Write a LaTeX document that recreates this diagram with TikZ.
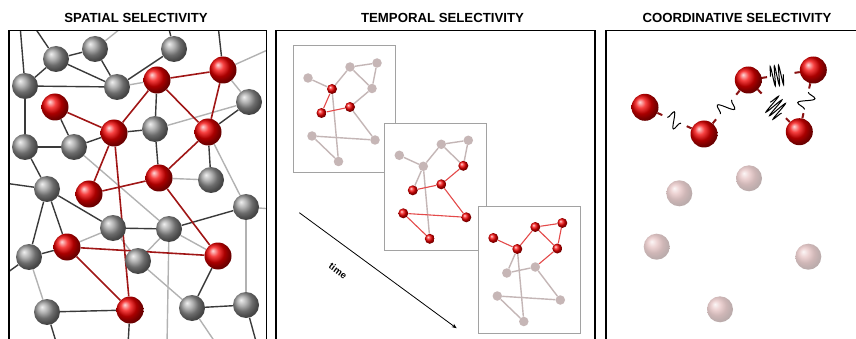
\documentclass[tikz,border=0pt]{standalone}
\usepackage{fontspec}
\setmainfont{Liberation Sans}
\usetikzlibrary{calc,backgrounds,arrows.meta,decorations.pathmorphing}

\definecolor{bondDark}{HTML}{3A3A3A}
\definecolor{bondLight}{HTML}{B2B2B2}
\definecolor{bondRed}{HTML}{A01616}
\definecolor{frameGray}{HTML}{A2A2A2}
\definecolor{dotGray}{HTML}{C6B6B6}
\definecolor{linkGray}{HTML}{C4B6B6}
\definecolor{linkRed}{HTML}{E44A4A}
\definecolor{stubRed}{HTML}{8A1212}
\definecolor{ghostTone}{HTML}{C26A6A}
\definecolor{sphereGray}{HTML}{9A9A9A}

\tikzset{
  panel/.style={draw=black, line width=1.3pt},
  title/.style={font=\fontsize{13.2}{15}\selectfont\bfseries, inner sep=0pt},
  gball/.style={circle, inner sep=0pt, minimum size=26pt, shading=ball, ball color=sphereGray},
  rball/.style={circle, inner sep=0pt, minimum size=27pt, shading=ball, ball color=red!95!black},
  ghostball/.style={circle, inner sep=0pt, minimum size=26pt, shading=ball, ball color=ghostTone, opacity=0.4},
  dk/.style={draw=bondDark, line width=1.4pt},
  lt/.style={draw=bondLight, line width=1.4pt},
  rd/.style={draw=bondRed, line width=1.6pt},
  subframe/.style={draw=frameGray, fill=white, line width=1pt},
  dot/.style={circle, inner sep=0pt, minimum size=9.5pt, fill=dotGray},
  rdot/.style={circle, inner sep=0pt, minimum size=10pt, shading=ball, ball color=red!95!black},
  link/.style={draw=linkGray, line width=1.4pt},
  rlink/.style={draw=linkRed, line width=1.1pt},
  stub/.style={draw=stubRed, line width=2pt},
  softspring/.style={draw=black, line width=1pt, decorate,
    decoration={snake, segment length=#1, amplitude=8pt}},
  tightspring/.style={draw=black, line width=1pt, decorate,
    decoration={snake, segment length=#1, amplitude=10pt}},
}

\begin{document}
\begin{tikzpicture}[x=1pt, y=-1pt]
\useasboundingbox (0,0) rectangle (856,339);

% ---------- titles ----------
\node[title] (t-spatial)  at (136,17.7)   {SPATIAL SELECTIVITY};
\node[title] (t-temporal) at (442.5,17.7) {TEMPORAL SELECTIVITY};
\node[title] (t-coord)    at (737,17.7)   {COORDINATIVE SELECTIVITY};

% ---------- spatial: network of spheres ----------
\node[gball] (g1)  at (56,59)   {};
\node[gball] (g2)  at (95,49)   {};
\node[gball] (g3)  at (174,49)  {};
\node[gball] (g4)  at (25,86)   {};
\node[gball] (g5)  at (117,87)  {};
\node[gball] (g6)  at (249,102) {};
\node[gball] (g7)  at (155,129) {};
\node[gball] (g8)  at (25,147)  {};
\node[gball] (g9)  at (74,147)  {};
\node[gball] (g10) at (211,180) {};
\node[gball] (g11) at (47,189)  {};
\node[gball] (g12) at (246,207) {};
\node[gball] (g13) at (113,228) {};
\node[gball] (g14) at (169,229) {};
\node[gball] (g15) at (29,257)  {};
\node[gball] (g16) at (138,261) {};
\node[gball] (g17) at (47,312)  {};
\node[gball] (g18) at (192,308) {};
\node[gball] (g19) at (246,305) {};

\node[rball] (r1)  at (157,80)  {};
\node[rball] (r2)  at (223,70)  {};
\node[rball] (r3)  at (55,107)  {};
\node[rball] (r4)  at (114,133) {};
\node[rball] (r5)  at (208,132) {};
\node[rball] (r6)  at (159,178) {};
\node[rball] (r7)  at (89,194)  {};
\node[rball] (r8)  at (67,247)  {};
\node[rball] (r9)  at (218,256) {};
\node[rball] (r10) at (130,310) {};

\begin{scope}[on background layer]
  \clip (9,30.7) rectangle (266.7,345);
  % loose ends leaving the frame
  \coordinate (eT1) at (33,25);
  \coordinate (eT2) at (20,25);
  \coordinate (eT3) at (125,25);
  \coordinate (eT4) at (168,25);
  \coordinate (eT5) at (218,25);
  \coordinate (eR1) at (272,48);
  \coordinate (eR2) at (272,209);
  \coordinate (eL1) at (4,183);
  \coordinate (eL2) at (4,275);
  \coordinate (eB1) at (57,345);
  \coordinate (eB2) at (128,345);
  \coordinate (eB3) at (167,345);
  \coordinate (eB4) at (217,345);
  \coordinate (eB5) at (257,345);
  % grey bonds
  \foreach \a/\b in {g1/g2, g1/g4, g1/g5, g2/g5, g4/g5, g3/g5, g1/eT1, g4/eT2,
      g3/eT4, r2/eT5, g4/g8, g8/g9, g9/r3, r4/g7, g7/r1, g7/r6, g6/r5, r5/g10,
      g11/g8, g11/eL1, g11/g13, g11/r8, g11/g15, g13/g14, g12/g14, g15/r8,
      g15/eL2, g17/r10, g17/eB1, g18/g19, g18/r9, g19/eB5, r10/eB2, g9/r4}
    \draw[dk] (\a) -- (\b);
  \foreach \a/\b in {g2/eT3, r2/eR1, g7/g6, r2/g6, r5/g12, g10/r6, g12/eR2,
      g12/g19, g9/g14, g13/g16, g14/g16, g14/eB3, g14/r9, g15/g17, g16/g18,
      g18/eB4, g5/r1, r8/g13}
    \draw[lt] (\a) -- (\b);
  % red bonds
  \foreach \a/\b in {r1/r2, r1/r4, r1/r5, r2/r5, r3/r4, r4/r7, r4/r10,
      r5/r6, r6/r7, r6/r9, r8/r9, r8/r10}
    \draw[rd] (\a) -- (\b);
\end{scope}

% ---------- temporal: three snapshots ----------
\begin{scope}[shift={(293,46)}, name prefix=fa-]
  \filldraw[subframe] (0,0) rectangle (102.5,127);
  \node[dot]  (A) at (15,32)   {};
  \node[dot]  (B) at (57,21)   {};
  \node[dot]  (C) at (84,17)   {};
  \node[dot]  (D) at (79,42.5) {};
  \node[rdot] (E) at (39,43)   {};
  \node[rdot] (F) at (28.5,67) {};
  \node[rdot] (G) at (57,61)   {};
  \node[dot]  (H) at (19,90)   {};
  \node[dot]  (I) at (82,94)   {};
  \node[dot]  (J) at (45.5,115.5) {};
  \foreach \a/\b in {A/E, E/B, B/C, B/D, C/D, D/G, E/J, G/I, H/I, H/J}
    \draw[link] (\a) -- (\b);
  \foreach \a/\b in {E/F, F/G}
    \draw[rlink] (\a) -- (\b);
\end{scope}

\begin{scope}[shift={(384.3,123.3)}, name prefix=fb-]
  \filldraw[subframe] (0,0) rectangle (102.5,127);
  \node[dot]  (A) at (15,32)   {};
  \node[dot]  (B) at (57,21)   {};
  \node[dot]  (C) at (84,17)   {};
  \node[rdot] (D) at (79,42.5) {};
  \node[dot]  (E) at (39,43)   {};
  \node[rdot] (F) at (28.5,67) {};
  \node[rdot] (G) at (57,61)   {};
  \node[rdot] (H) at (19,90)   {};
  \node[rdot] (I) at (82,94)   {};
  \node[rdot] (J) at (45.5,115.5) {};
  \foreach \a/\b in {A/E, E/B, B/C, B/D, C/D, E/F, E/J}
    \draw[link] (\a) -- (\b);
  \foreach \a/\b in {D/G, F/G, G/I, H/I, H/J}
    \draw[rlink] (\a) -- (\b);
\end{scope}

\begin{scope}[shift={(478.3,206)}, name prefix=fc-]
  \filldraw[subframe] (0,0) rectangle (102.5,127);
  \node[rdot] (A) at (15,32)   {};
  \node[rdot] (B) at (57,21)   {};
  \node[rdot] (C) at (84,17)   {};
  \node[rdot] (D) at (79,42.5) {};
  \node[rdot] (E) at (39,43)   {};
  \node[dot]  (F) at (28.5,67) {};
  \node[dot]  (G) at (57,61)   {};
  \node[dot]  (H) at (19,90)   {};
  \node[dot]  (I) at (82,94)   {};
  \node[dot]  (J) at (45.5,115.5) {};
  \foreach \a/\b in {E/F, F/G, E/J, G/I, H/I, H/J}
    \draw[link] (\a) -- (\b);
  \foreach \a/\b in {A/E, E/B, B/C, B/D, C/D, D/G}
    \draw[rlink] (\a) -- (\b);
\end{scope}

% time axis
\coordinate (time-start) at (299.3,212.7);
\coordinate (time-end)   at (456.7,328.3);
\draw[line width=0.8pt, -{Stealth[length=5pt, width=4pt]}] (time-start) -- (time-end);
\node[font=\fontsize{9.5}{11}\selectfont\bfseries, rotate=-36.3, inner sep=1pt] (time-label) at (338,271) {time};

% ---------- coordinative: linked spheres ----------
\node[ghostball] (Q1) at (679.3,193.3) {};
\node[ghostball] (Q2) at (749,178.3)   {};
\node[ghostball] (Q3) at (656.7,246.7) {};
\node[ghostball] (Q4) at (808.3,256.7) {};
\node[ghostball] (Q5) at (720,309.3)   {};

\node[rball] (P1) at (645,107.3)  {};
\node[rball] (P2) at (704,134)    {};
\node[rball] (P3) at (748.3,80)   {};
\node[rball] (P4) at (813.3,70)   {};
\node[rball] (P5) at (799.3,131.7) {};

\foreach \a/\b in {P1/P2, P2/P3, P3/P4, P3/P5, P4/P5} {
  \draw[stub] (\a) -- ($(\a)!19pt!(\b)$);
  \draw[stub] (\b) -- ($(\b)!19pt!(\a)$);
}
\draw[softspring=12.5] ($(P1)!0.38!(P2)$) -- ($(P1)!0.61!(P2)$);
\draw[softspring=15.8] ($(P2)!0.37!(P3)$) -- ($(P2)!0.63!(P3)$);
\draw[softspring=15.4] ($(P4)!0.36!(P5)$) -- ($(P4)!0.64!(P5)$);
\draw[tightspring=4.2] ($(P3)!0.34!(P4)$) -- ($(P3)!0.54!(P4)$);
\draw[tightspring=5.0] ($(P3)!0.43!(P5)$) -- ($(P3)!0.65!(P5)$);

% ---------- panel frames ----------
\draw[panel] (9,345) -- (9,30.7) -- (266.7,30.7) -- (266.7,345);
\draw[panel] (276,345) -- (276,30.7) -- (595,30.7) -- (595,345);
\draw[panel] (606,345) -- (606,30.7) -- (870,30.7);
\end{tikzpicture}
\end{document}
